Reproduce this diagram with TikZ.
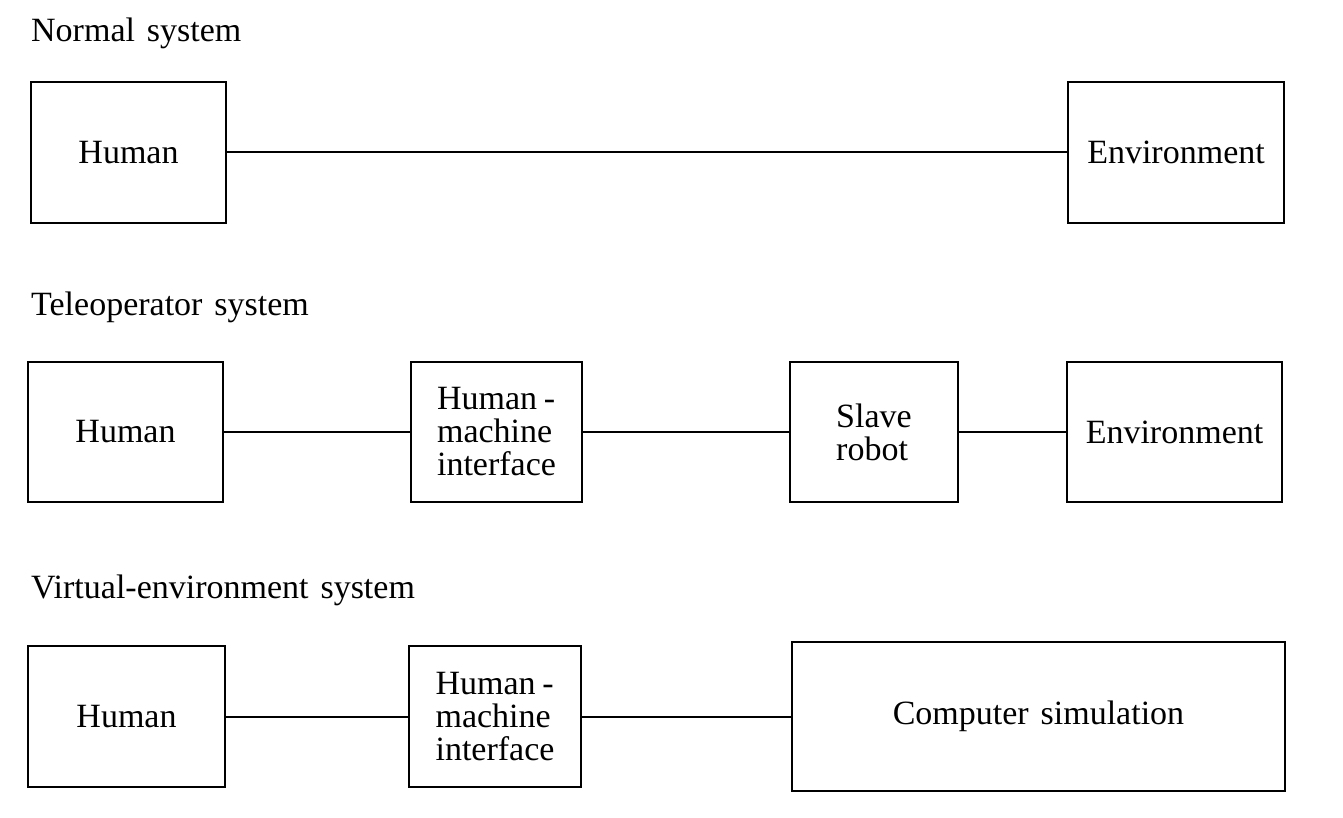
\documentclass[tikz,border=0pt]{standalone}
\usepackage{fontspec}
\setmainfont{Liberation Serif}[WordSpace=1.4]
\begin{document}
\begin{tikzpicture}[x=1pt,y=-1pt,
  blk/.style={draw=black, line width=2.2pt, inner sep=0pt, outer sep=0pt,
    font=\fontsize{34}{33}\selectfont, align=left},
  conn/.style={draw=black, line width=2pt},
  ttl/.style={anchor=base west, inner sep=0pt, font=\fontsize{34}{33}\selectfont}]
\useasboundingbox[fill=white] (0,0) rectangle (1343,818);

% titles
\node[ttl] (t1) at (31,42) {Normal system};
\node[ttl] (t2) at (31,315) {Teleoperator system};
\node[ttl] (t3) at (31,598) {Virtual-environment system};

% row 1
\node[blk, minimum width=195pt, minimum height=141pt] (h1) at (128.5,152.5) {Human};
\node[blk, minimum width=216pt, minimum height=141pt] (e1) at (1176,152.5) {Environment};
\draw[conn] (h1.east) -- (e1.west);

% row 2
\node[blk, minimum width=195pt, minimum height=140pt] (h2) at (125.5,432) {Human};
\node[blk, minimum width=171pt, minimum height=140pt] (m2) at (496.5,432) {Human\hspace{0.2em}-\\machine\\interface};
\node[blk, minimum width=168pt, minimum height=140pt] (s2) at (874,432) {Slave\\robot};
\node[blk, minimum width=215pt, minimum height=140pt] (e2) at (1174.5,432) {Environment};
\draw[conn] (h2.east) -- (m2.west);
\draw[conn] (m2.east) -- (s2.west);
\draw[conn] (s2.east) -- (e2.west);

% row 3
\node[blk, minimum width=197pt, minimum height=141pt] (h3) at (126.5,716.5) {Human};
\node[blk, minimum width=172pt, minimum height=141pt] (m3) at (495,716.5) {Human\hspace{0.2em}-\\machine\\interface};
\node[blk, minimum width=493pt, minimum height=149pt] (c3) at (1038.5,716.5) {Computer simulation};
\draw[conn] (h3.east) -- (m3.west);
\draw[conn] (m3.east) -- (c3.west);
\end{tikzpicture}
\end{document}
